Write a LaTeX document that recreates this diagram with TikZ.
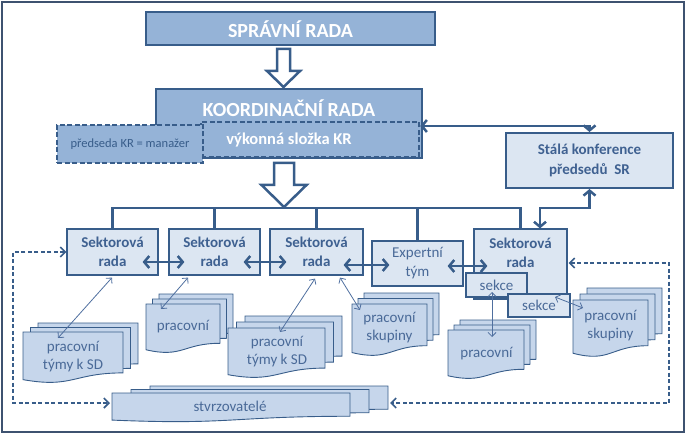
\documentclass[tikz,border=0pt]{standalone}
\usepackage{fontspec}
\setmainfont{Carlito}
\usetikzlibrary{arrows.meta,calc}
\definecolor{dk}{HTML}{385D8A}
\definecolor{mid}{HTML}{95B3D7}
\definecolor{lt}{HTML}{DCE6F2}
\definecolor{stk}{HTML}{C6D6EB}
\definecolor{tx}{HTML}{3F6191}
\definecolor{txs}{HTML}{4A6A98}
\definecolor{frm}{HTML}{3E5270}
\definecolor{thn}{HTML}{4F6F9F}
\newcommand\mydoc[4]{\filldraw[stackshape] ({#1},{#2}) -- ({#1+#3},{#2}) -- ({#1+#3},{#2+0.802*#4}) .. controls ({#1+0.5*#3},{#2+0.802*#4}) and ({#1+0.5*#3},{#2+1.108*#4}) .. ({#1},{#2+0.934*#4}) -- cycle;}
\newcommand\mystack[6]{\mydoc{#1+2*#5}{#2-2*#6}{#3}{#4}\mydoc{#1+#5}{#2-#6}{#3}{#4}\mydoc{#1}{#2}{#3}{#4}}
\newcommand\myhollow[6]{\filldraw[hollowarrow] ({#1-#5},{#2}) -- ({#1+#5},{#2}) -- ({#1+#5},{#3}) -- ({#1+#6},{#3}) -- ({#1},{#4}) -- ({#1-#6},{#3}) -- ({#1-#5},{#3}) -- cycle;}
\begin{document}
\begin{tikzpicture}[x=1pt,y=-1pt,
  mainbox/.style={draw=dk, fill=mid, line width=2.5pt, inner sep=0pt},
  dashbox/.style={draw=dk, fill=mid, line width=2.5pt, dash pattern=on 5pt off 2.5pt, inner sep=0pt},
  wtitle/.style={text=white, font=\bfseries\fontsize{20}{24}\selectfont, inner sep=0pt},
  wsub/.style={text=white, font=\bfseries\fontsize{16.5}{20}\selectfont, inner sep=0pt},
  sbox/.style={draw=dk, fill=lt, line width=1.2pt, inner sep=0pt, text=tx, align=center, font=\bfseries\fontsize{15}{19}\selectfont},
  ebox/.style={draw=dk, fill=lt, line width=1.2pt, inner sep=0pt, text=txs, align=center, font=\fontsize{15}{19}\selectfont},
  stbox/.style={draw=dk, fill=lt, line width=2pt, inner sep=0pt, text=tx, align=center, font=\bfseries\fontsize{15}{20}\selectfont},
  stackshape/.style={draw=dk, fill=stk, line width=0.9pt},
  stxt/.style={text=txs, align=center, font=\fontsize{15}{18}\selectfont, inner sep=0pt},
  hollowarrow/.style={draw=dk, fill=white, line width=2.5pt, line join=miter},
  tree/.style={draw=dk, line width=2.2pt},
  bigarr/.style={draw=dk, line width=2.5pt, {Straight Barb[length=5pt,width=12pt]}-{Straight Barb[length=5pt,width=12pt]}},
  thinarr/.style={draw=thn, line width=0.8pt, {Straight Barb[length=4pt,width=8pt]}-{Straight Barb[length=4pt,width=8pt]}},
  dasharr/.style={draw=dk, line width=1.6pt, dash pattern=on 4pt off 2.5pt, {Straight Barb[length=5pt,width=10pt]}-{Straight Barb[length=5pt,width=10pt]}}
]
\useasboundingbox (0,0) rectangle (687,435);
\draw[draw=frm, line width=1.5pt] (2,2) rectangle (684,432);

% top boxes
\node[mainbox, minimum width=289pt, minimum height=33pt] (sr) at (290.5,28.5) {};
\node[wtitle] (srtext) at (290.5,29) {SPRÁVNÍ RADA};
\myhollow{283.5}{49}{71}{87}{6.5}{16.5}
\node[mainbox, minimum width=266pt, minimum height=69pt] (kr) at (289,123.5) {};
\node[wtitle] (krtext) at (289,108) {KOORDINAČNÍ RADA};
\node[dashbox, minimum width=218pt, minimum height=35pt] (vs) at (310,139.5) {};
\node[wsub] (vstext) at (289,140) {výkonná složka KR};
\node[dashbox, minimum width=146pt, minimum height=38pt, text=dk, font=\fontsize{12.5}{14}\selectfont] (pk) at (130,144) {předseda KR = manažer};
\myhollow{284}{163}{185}{207}{10}{22.5}

\node[stbox, minimum width=167pt, minimum height=55pt] (st) at (589.5,160.5) {Stálá konference\\předsedů\ \ SR};

% sector boxes
\node[sbox, minimum width=91pt, minimum height=46pt] (s1) at (112.5,252) {Sektorová\\rada};
\node[sbox, minimum width=91pt, minimum height=46pt] (s2) at (214.5,252) {Sektorová\\rada};
\node[sbox, minimum width=93pt, minimum height=46pt] (s3) at (316.5,252) {Sektorová\\rada};
\node[ebox, minimum width=91pt, minimum height=45pt] (ex) at (417.5,263.5) {Expertní\\tým};
\node[sbox, minimum width=93pt, minimum height=70pt] (s5) at (520.5,264) {};
\node[sbox, draw=none, fill=none] (s5text) at (520.5,252.5) {Sektorová\\rada};

% tree
\coordinate (bus) at (316,208);
\draw[tree] (s1.north) -- (s1.north |- bus) -- (s5.north |- bus) -- (s5.north);
\draw[tree] (s2.north) -- (s2.north |- bus);
\draw[tree] (s3.north) -- (s3.north |- bus);
\draw[tree] (ex.north) -- (ex.north |- bus);

% stacks
\mystack{23}{332}{100}{51}{7.5}{4.5}
\node[stxt] (p1) at (73,357) {pracovní\\týmy k SD};
\mystack{146}{304}{74}{49}{6.5}{5}
\node[stxt] (p2) at (183,327) {pracovní};
\mystack{228}{328}{97}{50}{8.5}{6}
\node[stxt] (p3) at (277,352) {pracovní\\týmy k SD};
\mystack{352}{304}{75}{52}{6}{5.5}
\node[stxt] (p4) at (389.5,328) {pracovní\\skupiny};
\mystack{448}{330}{76}{49}{6}{5}
\node[stxt] (p5) at (486.5,354) {pracovní};
\mystack{573}{300}{75}{57}{7}{6}
\node[stxt] (p6) at (610.5,326) {pracovní\\skupiny};
\mystack{112}{393}{238}{29}{19}{3.5}
\node[stxt] (p7) at (230,406) {stvrzovatelé};

% sekce
\node[ebox, minimum width=61pt, minimum height=24pt] (sk1) at (496.5,285) {sekce};
\node[ebox, minimum width=62pt, minimum height=23pt] (sk2) at (539,305.5) {sekce};

% connectors top
\draw[bigarr] (vs.east |- 0,126) -- (st.north |- 0,126) -- (st.north);
\draw[bigarr] (st.south) -- (st.south |- bus) -| ($(s5.north)+(19.5,0)$);

% between boxes
\draw[bigarr] ($(s1.east)+(-16,10)$) -- ($(s2.west)+(16,10)$);
\draw[bigarr] ($(s2.east)+(-17,10)$) -- ($(s3.west)+(17,10)$);
\draw[bigarr] ($(s3.east)+(-20,13)$) -- ($(ex.west)+(18,1.5)$);
\draw[bigarr] ($(ex.east)+(-16,2.5)$) -- ($(s5.west)+(14,2)$);

% thin
\coordinate (t1) at (58,338);
\coordinate (t2) at (161,309);
\coordinate (t3) at (280,332);
\coordinate (t4) at (360,310);
\coordinate (t5) at (492,337);
\coordinate (t6) at (583,308);
\draw[thinarr] ($(s1.south)+(-0.5,2)$) -- (t1);
\draw[thinarr] ($(s2.south)+(-26.5,2)$) -- (t2);
\draw[thinarr] ($(s3.south)+(-1.5,3)$) -- (t3);
\draw[thinarr] ($(s3.south)+(23.5,2)$) -- (t4);
\draw[thinarr] ($(sk1.center)+(-4.5,7)$) -- (t5);
\draw[thinarr] ($(sk2.center)+(16,-8.5)$) -- (t6);

% dashed
\coordinate (stvL) at (110,403);
\coordinate (stvR) at (390,403);
\draw[dasharr] (s1.west) -- (13,252) |- (stvL);
\draw[dasharr] ($(s5.east)+(1,-1)$) -- (669,263) |- (stvR);
\end{tikzpicture}
\end{document}
